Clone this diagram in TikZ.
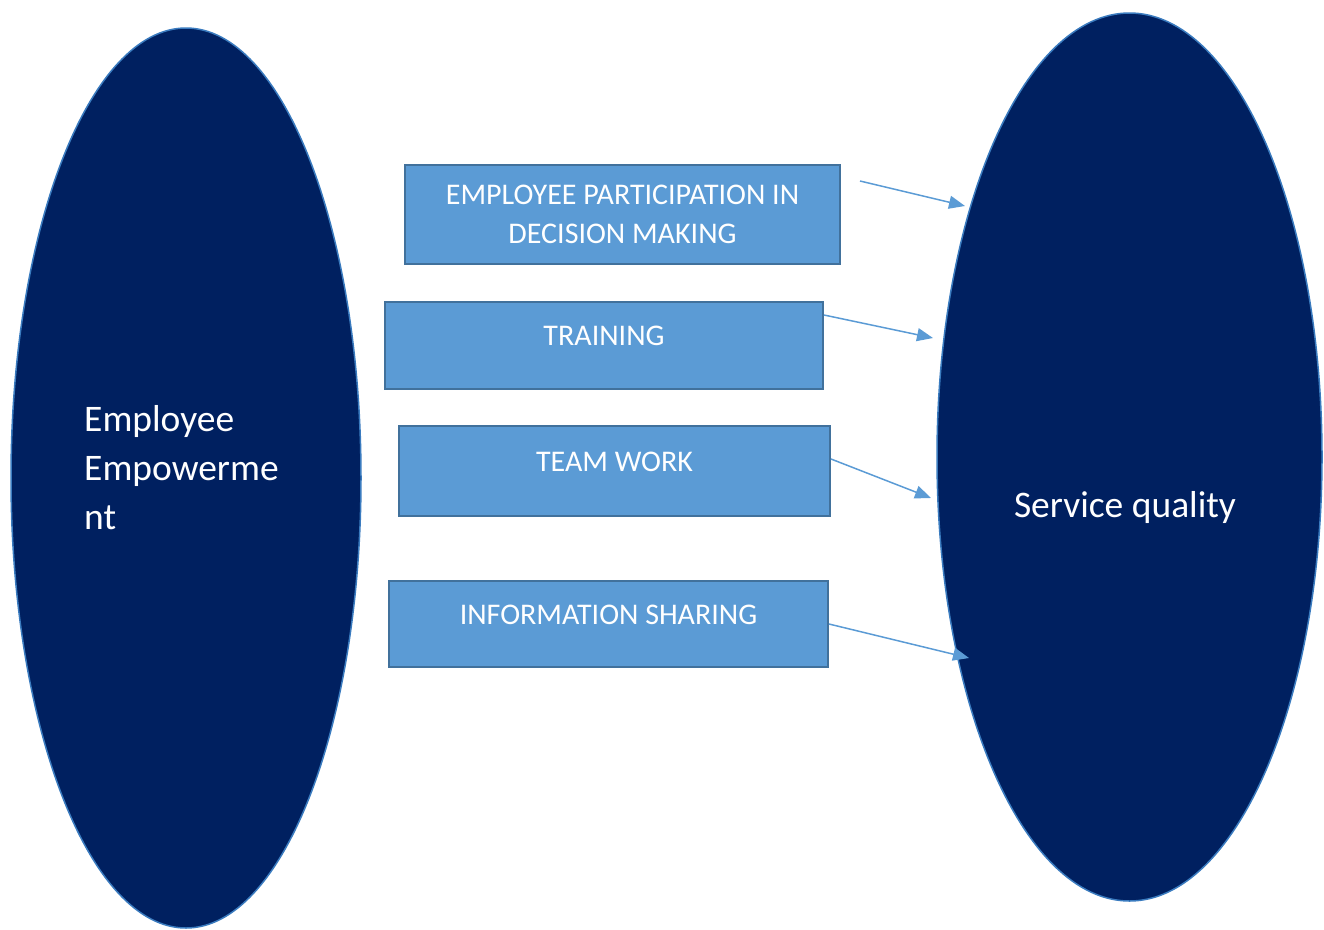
\documentclass[tikz,border=0pt]{standalone}
\usepackage{fontspec}
\setmainfont{Carlito}
\usetikzlibrary{shapes.geometric}
\usetikzlibrary{arrows.meta}
\usetikzlibrary{positioning}

\definecolor{navy}{HTML}{002060}
\definecolor{boxblue}{HTML}{5B9BD5}
\definecolor{boxedge}{HTML}{41719C}
\definecolor{rimblue}{HTML}{3A7BBF}

\begin{document}
\begin{tikzpicture}[
            x = 1pt, y = -1pt, % one unit per pixel, y runs downwards
            > = {Triangle[length=16pt, width=13pt]}, % arrow head style
            shorten > = 0pt
        ]

        \tikzstyle{oval}=[
            ellipse,
            draw = rimblue,
            fill = navy,
            line width = 1.5pt,
            inner sep = 0pt
        ]
        \tikzstyle{factor}=[
            rectangle,
            draw = boxedge,
            fill = boxblue,
            line width = 2pt,
            text = white,
            font = \fontsize{30}{39}\selectfont,
            align = center,
            inner sep = 0pt
        ]
        \tikzstyle{oneline}=[text height = 20pt, text depth = 20pt]
        \tikzstyle{link}=[->, draw = boxblue, fill = boxblue, line width = 1.5pt]
        \tikzstyle{bigtext}=[text = white, inner sep = 0pt, font = \fontsize{37.5}{49}\selectfont]

        \useasboundingbox (0,0) rectangle (1324,929);

	% constructs
        \node[oval, minimum width=350pt, minimum height=900pt] (EE) at (186,478) {};
        \node[oval, minimum width=385pt, minimum height=888pt] (SQ) at (1129.5,457) {};

        \node[bigtext, align=left, anchor=west] (EEtext) at (84,468) {Employee\\Empowerme\\nt};
        \node[bigtext] (SQtext) at (1125,507) {Service quality};

	% dimensions
        \node[factor, minimum width=435pt, minimum height=99pt] (P) at (622.5,214.5) {EMPLOYEE PARTICIPATION IN\\DECISION MAKING};
        \node[factor, oneline, minimum width=438pt, minimum height=87pt] (T) at (604,345.5) {TRAINING};
        \node[factor, oneline, minimum width=431pt, minimum height=90pt] (TW) at (614.5,471) {TEAM WORK};
        \node[factor, oneline, minimum width=439pt, minimum height=86pt] (IS) at (608.5,624) {INFORMATION SHARING};

	% arrows into service quality
        \coordinate (P0) at ([xshift=19pt, yshift=-17pt]P.north east);
        \coordinate (P1) at (965,206);
        \coordinate (T1) at (933,338);
        \coordinate (TW1) at (931,498);
        \coordinate (IS1) at (969,658);

        \draw[link] (P0) -- (P1);
        \draw[link] ([yshift=-14pt]T.north east) -- (T1);
        \draw[link] ([yshift=12pt]TW.east) -- (TW1);
        \draw[link] (IS.east) -- (IS1);

\end{tikzpicture}
\end{document}
